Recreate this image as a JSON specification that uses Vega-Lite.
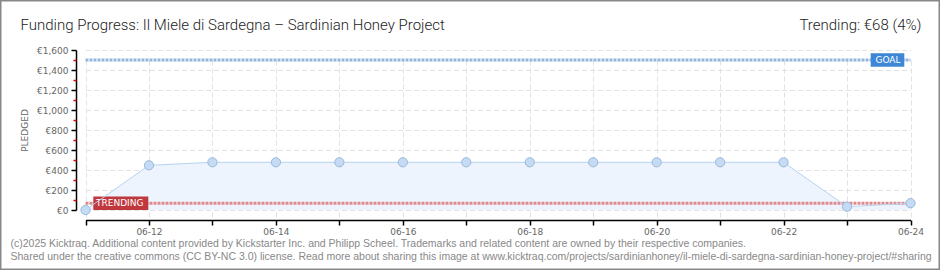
{
  "$schema": "https://vega.github.io/schema/vega-lite/v6.json",
  "width": 940,
  "height": 270,
  "autosize": {"type": "none"},
  "padding": 0,
  "background": "white",
  "config": {
    "view": {"stroke": "#888888", "strokeWidth": 3},
    "axis": {"labelFlush": false, "labelOverlap": false, "labelBound": false}
  },
  "datasets": {
    "pledged": [
      {"date": "2025-06-11", "pledged": 0},
      {"date": "2025-06-12", "pledged": 447},
      {"date": "2025-06-13", "pledged": 477},
      {"date": "2025-06-14", "pledged": 477},
      {"date": "2025-06-15", "pledged": 477},
      {"date": "2025-06-16", "pledged": 477},
      {"date": "2025-06-17", "pledged": 477},
      {"date": "2025-06-18", "pledged": 477},
      {"date": "2025-06-19", "pledged": 477},
      {"date": "2025-06-20", "pledged": 477},
      {"date": "2025-06-21", "pledged": 477},
      {"date": "2025-06-22", "pledged": 477},
      {"date": "2025-06-23", "pledged": 33},
      {"date": "2025-06-24", "pledged": 68}
    ],
    "lines": [
      {"label": "GOAL", "amount": 1500, "start": "2025-06-11", "end": "2025-06-24"},
      {"label": "TRENDING", "amount": 68, "start": "2025-06-11", "end": "2025-06-24"}
    ]
  },
  "resolve": {"axis": {"x": "independent", "y": "independent"}},
  "layer": [
    {
      "data": {"name": "pledged"},
      "mark": {"type": "area", "color": "#edf4fd", "opacity": 1},
      "encoding": {
        "x": {
          "field": "date", "type": "temporal",
          "scale": {"type": "utc", "nice": false,
            "domain": [{"year": 2025, "month": 6, "date": 11, "utc": true}, {"year": 2025, "month": 6, "date": 24, "utc": true}],
            "range": [85.5, 910.5]},
          "axis": {
            "orient": "bottom", "offset": -50,
            "tickCount": {"interval": "day", "step": 1},
            "labelExpr": "utcdate(datum.value) % 2 == 0 ? utcFormat(datum.value, '%m-%d') : ''",
            "grid": true, "gridColor": "#e2e2e2", "gridDash": [5, 3],
            "tickColor": "#000", "tickSize": 5, "tickWidth": 1.5,
            "domainColor": "#000", "domainWidth": 1.5,
            "labelFont": "DejaVu Sans", "labelFontSize": 9, "labelColor": "#666", "labelPadding": 2,
            "title": ["(c)2025 Kicktraq. Additional content provided by Kickstarter Inc. and Philipp Scheel. Trademarks and related content are owned by their respective companies.", "Shared under the creative commons (CC BY-NC 3.0) license. Read more about sharing this image at www.kicktraq.com/projects/sardinianhoney/il-miele-di-sardegna-sardinian-honey-project/#sharing"],
            "titleFont": "Liberation Sans", "titleFontSize": 10.5, "titleFontWeight": "normal", "titleColor": "#888",
            "titleX": 10, "titleY": 26.5, "titleAlign": "left", "titleBaseline": "alphabetic", "titleLineHeight": 12.5, "titleAngle": 0
          }
        },
        "y": {
          "field": "pledged", "type": "quantitative",
          "scale": {"domain": [0, 1600], "range": [210, 50], "nice": false, "zero": true},
          "axis": {
            "orient": "left", "offset": -76,
            "values": [0, 200, 400, 600, 800, 1000, 1200, 1400, 1600],
            "labelExpr": "'€' + format(datum.value, ',')",
            "grid": true, "gridColor": "#e2e2e2", "gridDash": [5, 3],
            "tickColor": "#000", "tickSize": 5, "tickWidth": 1.5,
            "domainColor": "#000", "domainWidth": 1.5,
            "labelFont": "DejaVu Sans", "labelFontSize": 9, "labelColor": "#666", "labelPadding": 3,
            "title": "PLEDGED", "titleFont": "DejaVu Sans", "titleFontSize": 9, "titleFontWeight": "normal", "titleColor": "#666",
            "titleX": -51.7, "titleY": 130, "titleBaseline": "middle", "titleAlign": "center", "titleAngle": 270
          }
        }
      }
    },
    {
      "data": {"name": "lines"},
      "mark": {"type": "rule", "strokeWidth": 3, "strokeDash": [3, 1]},
      "encoding": {
        "x": {"field": "start", "type": "temporal", "axis": null},
        "x2": {"field": "end"},
        "y": {"field": "amount", "type": "quantitative", "axis": null},
        "color": {"condition": {"test": "datum.label == 'GOAL'", "value": "#93b6de"}, "value": "#dc8a8e"}
      }
    },
    {
      "data": {"name": "lines"},
      "transform": [{"filter": "datum.label == 'GOAL'"}],
      "mark": {"type": "point", "filled": true, "opacity": 1, "size": 400, "strokeWidth": 0, "color": "#3d87d6", "shape": "M-3.98,-0.67H-0.62V0.67H-3.98Z"},
      "encoding": {
        "x": {"field": "end", "type": "temporal", "axis": null},
        "y": {"field": "amount", "type": "quantitative", "axis": null}
      }
    },
    {
      "data": {"name": "lines"},
      "transform": [{"filter": "datum.label == 'GOAL'"}],
      "mark": {"type": "text", "dx": -22.5, "dy": 0, "align": "center", "baseline": "middle", "color": "white", "font": "DejaVu Sans", "fontSize": 9},
      "encoding": {
        "x": {"field": "end", "type": "temporal", "axis": null},
        "y": {"field": "amount", "type": "quantitative", "axis": null},
        "text": {"field": "label"}
      }
    },
    {
      "data": {"name": "lines"},
      "transform": [{"filter": "datum.label == 'TRENDING'"}],
      "mark": {"type": "point", "filled": true, "opacity": 1, "size": 400, "strokeWidth": 0, "color": "#c0383e", "shape": "M0.78,-0.68H6.28V0.68H0.78Z"},
      "encoding": {
        "x": {"field": "start", "type": "temporal", "axis": null},
        "y": {"field": "amount", "type": "quantitative", "axis": null}
      }
    },
    {
      "data": {"name": "lines"},
      "transform": [{"filter": "datum.label == 'TRENDING'"}],
      "mark": {"type": "text", "dx": 10.5, "dy": 0, "align": "left", "baseline": "middle", "color": "white", "font": "DejaVu Sans", "fontSize": 9},
      "encoding": {
        "x": {"field": "start", "type": "temporal", "axis": null},
        "y": {"field": "amount", "type": "quantitative", "axis": null},
        "text": {"field": "label"}
      }
    },
    {
      "data": {"name": "pledged"},
      "mark": {"type": "line", "color": "#b7d3f2", "strokeWidth": 1},
      "encoding": {
        "x": {
          "field": "date", "type": "temporal",
          "axis": {
            "orient": "top", "offset": 0, "labels": false, "ticks": false, "domain": false, "grid": false,
            "title": "Trending: €68 (4%)",
            "titleFont": "Roboto", "titleFontSize": 15, "titleFontWeight": 300, "titleColor": "#222",
            "titleX": 921, "titleY": 29, "titleAlign": "right", "titleBaseline": "alphabetic", "titleAngle": 0
          }
        },
        "y": {
          "field": "pledged", "type": "quantitative",
          "axis": {
            "orient": "left", "offset": -76,
            "values": [100, 300, 500, 700, 900, 1100, 1300, 1500],
            "labels": false, "domain": false, "grid": false,
            "tickColor": "#e00000", "tickSize": 3, "tickWidth": 1.5, "title": null
          }
        }
      }
    },
    {
      "data": {"name": "pledged"},
      "mark": {"type": "point", "filled": true, "opacity": 1, "size": 85, "color": "#c5dbf3", "stroke": "#9ab8dc", "strokeWidth": 1},
      "encoding": {
        "x": {
          "field": "date", "type": "temporal",
          "axis": {
            "orient": "top", "offset": 0, "labels": false, "ticks": false, "domain": false, "grid": false,
            "title": "Funding Progress: Il Miele di Sardegna – Sardinian Honey Project",
            "titleFont": "Roboto", "titleFontSize": 15, "titleFontWeight": 300, "titleColor": "#222",
            "titleX": 20, "titleY": 29, "titleAlign": "left", "titleBaseline": "alphabetic", "titleAngle": 0
          }
        },
        "y": {"field": "pledged", "type": "quantitative", "axis": null}
      }
    }
  ]
}
